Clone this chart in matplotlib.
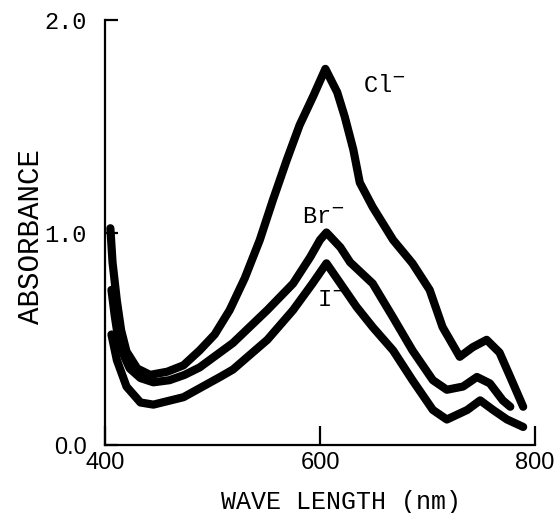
import matplotlib
matplotlib.use("Agg")
import matplotlib.pyplot as plt
import numpy as np

# --- data ---
cl_nm = [405, 407, 411, 415, 420, 430, 442, 458, 473, 488, 502, 516, 530, 544, 556,
         569, 581, 594, 605, 616, 623, 631, 637, 649, 668, 686, 702, 714, 730, 742,
         755, 767, 777, 789]
cl_abs = [1.02, 0.86, 0.68, 0.54, 0.44, 0.36, 0.33, 0.345, 0.375, 0.445, 0.52, 0.635,
          0.785, 0.965, 1.15, 1.34, 1.505, 1.645, 1.77, 1.66, 1.545, 1.39, 1.235, 1.12,
          0.965, 0.855, 0.73, 0.555, 0.415, 0.46, 0.495, 0.435, 0.32, 0.18]

br_nm = [406, 409, 412, 418, 423, 433, 445, 460, 474, 488, 519, 551, 575, 591, 600,
         606, 619, 628, 649, 668, 686, 705, 718, 733, 746, 758, 770, 777]
br_abs = [0.73, 0.61, 0.51, 0.415, 0.36, 0.315, 0.295, 0.305, 0.33, 0.365, 0.48, 0.635,
          0.76, 0.885, 0.965, 1.0, 0.93, 0.86, 0.76, 0.60, 0.445, 0.305, 0.26, 0.275,
          0.32, 0.29, 0.21, 0.18]

i_nm = [406, 411, 420, 433, 445, 473, 507, 519, 551, 575, 593, 606, 619, 634, 649,
        668, 686, 705, 718, 737, 749, 761, 774, 789]
i_abs = [0.52, 0.40, 0.275, 0.20, 0.19, 0.225, 0.32, 0.355, 0.495, 0.635, 0.76, 0.855,
         0.76, 0.65, 0.555, 0.445, 0.305, 0.165, 0.12, 0.165, 0.21, 0.165, 0.12, 0.085]

series_labels = ["Cl$^{-}$", "Br$^{-}$", "I$^{-}$"]
label_pos = [(640, 1.69), (583, 1.07), (597, 0.68)]
x_ticks = [400, 600, 800]
x_ticklabels = ["400", "600", "800"]
y_ticks = [0.0, 1.0, 2.0]
y_ticklabels = ["0.0", "1.0", "2.0"]

mono = "Liberation Mono"
sans = "Liberation Sans"

fig = plt.figure(figsize=(5.6, 5.13), dpi=100)
ax = fig.add_axes([105/560, 1 - 445/513, 430/560, 425/513])

for xs, ys in [(cl_nm, cl_abs), (br_nm, br_abs), (i_nm, i_abs)]:
    ax.plot(xs, ys, color="black", lw=5.9, solid_capstyle="round",
            solid_joinstyle="round")

ax.set_xlim(400, 800)
ax.set_ylim(0, 2.0)
for s in ["top", "right"]:
    ax.spines[s].set_visible(False)
for s in ["left", "bottom"]:
    ax.spines[s].set_linewidth(1.6)

ax.set_xticks(x_ticks, x_ticklabels)
ax.set_yticks(y_ticks, y_ticklabels)
ax.tick_params(axis="x", direction="in", length=14, width=1.6, pad=5,
               labelsize=17)
ax.tick_params(axis="y", direction="in", length=9, width=1.6, pad=13,
               labelsize=17)
for lab in ax.get_xticklabels():
    lab.set_fontfamily(sans)
for lab in ax.get_yticklabels():
    lab.set_fontfamily(mono)
ax.get_yticklabels()[0].set_fontfamily(sans)

ax.set_xlabel("WAVE LENGTH (nm)", fontfamily=mono, fontsize=18)
ax.xaxis.set_label_coords((341 - 105) / 430, -(502 - 445) / 425, transform=ax.transAxes)
ax.xaxis.label.set_va("center")
ax.set_ylabel("ABSORBANCE", fontfamily=mono, fontsize=21)
ax.yaxis.set_label_coords(-(105 - 31) / 430, (445 - 236) / 425, transform=ax.transAxes)
ax.yaxis.label.set_va("center")

for txt, (lx, ly) in zip(series_labels, label_pos):
    ax.text(lx, ly, txt, fontfamily=mono, fontsize=17, ha="left", va="center")

fig.savefig("out.png", dpi=100)
